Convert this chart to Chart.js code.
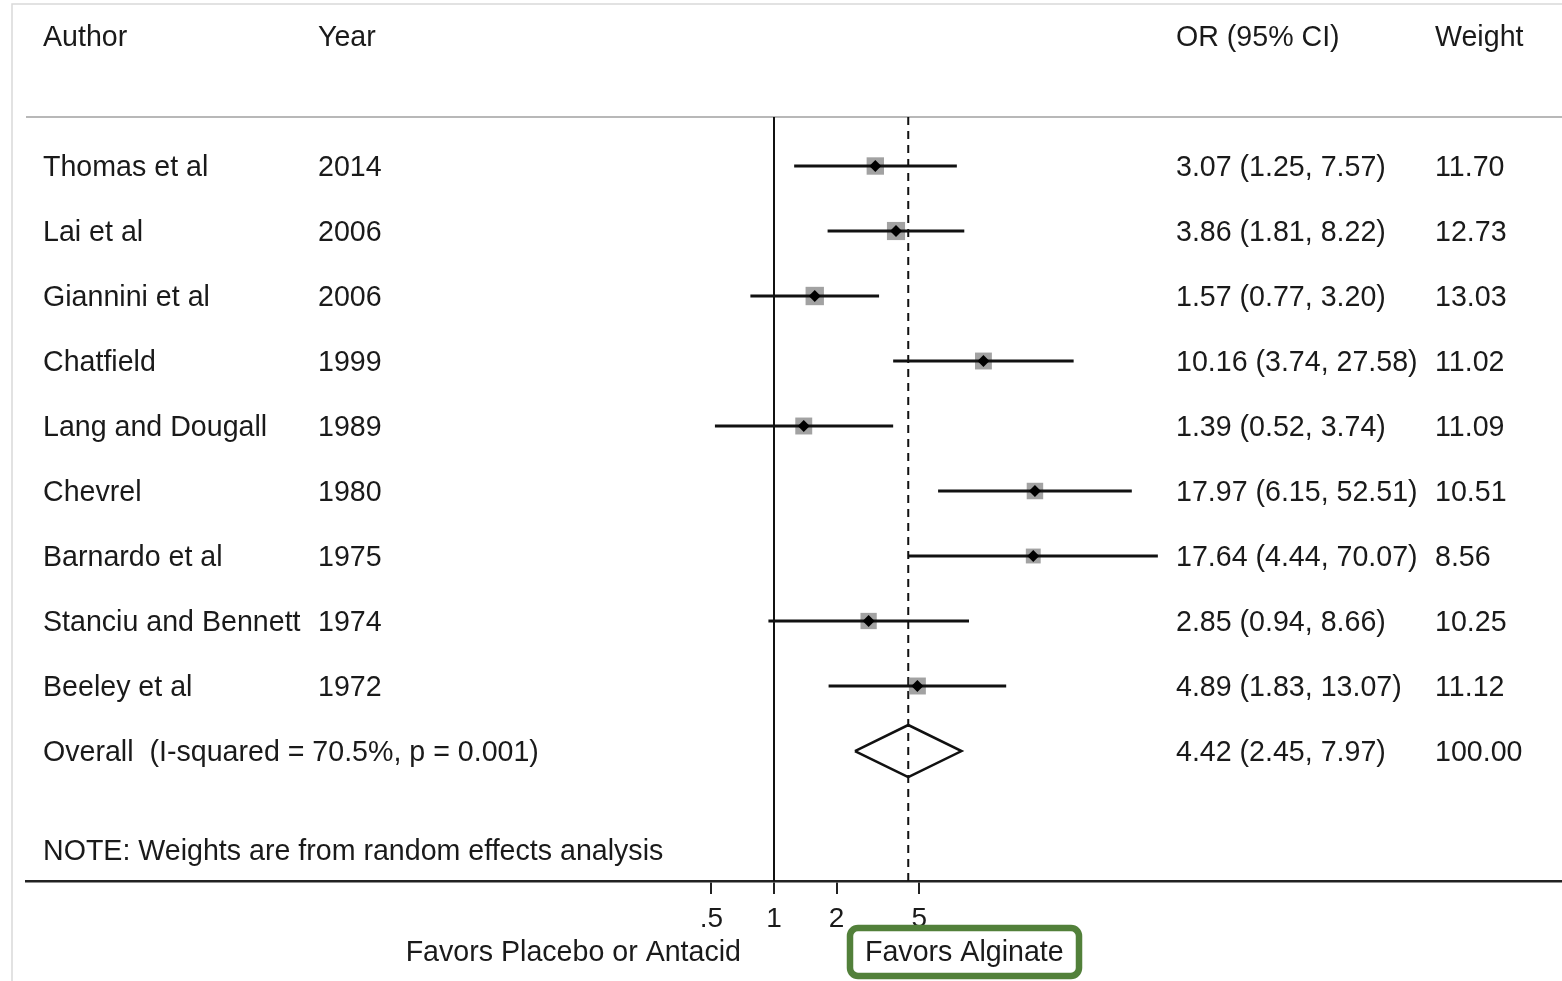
<!DOCTYPE html>
<html lang="en">
<head>
<meta charset="UTF-8">
<title>Forest plot - Alginate vs Placebo or Antacid</title>
<script src="https://cdn.jsdelivr.net/npm/chart.js"></script>
<style>
    html, body { margin: 0; padding: 0; background: #fff; overflow: hidden; }
    #wrap { width: 1562px; height: 981px; }
    canvas { display: block; }
</style>
</head>
<body>
<div id="wrap"><canvas id="forest" width="1562" height="981"></canvas></div>
<script>
const authors = ['Thomas et al', 'Lai et al', 'Giannini et al', 'Chatfield', 'Lang and Dougall',
                 'Chevrel', 'Barnardo et al', 'Stanciu and Bennett', 'Beeley et al'];
const years = ['2014', '2006', '2006', '1999', '1989', '1980', '1975', '1974', '1972'];
const orValues = [3.07, 3.86, 1.57, 10.16, 1.39, 17.97, 17.64, 2.85, 4.89];
const ciLow = [1.25, 1.81, 0.77, 3.74, 0.52, 6.15, 4.44, 0.94, 1.83];
const ciHigh = [7.57, 8.22, 3.20, 27.58, 3.74, 52.51, 70.07, 8.66, 13.07];
const weights = [11.70, 12.73, 13.03, 11.02, 11.09, 10.51, 8.56, 10.25, 11.12];

const overallOR = 4.42;
const overallCI = [2.45, 7.97];
const overallWeight = 100.00;
const overallLabel = 'Overall  (I-squared = 70.5%, p = 0.001)';
const noteLabel = 'NOTE: Weights are from random effects analysis';

const tickValues = [0.5, 1, 2, 5];
const tickLabels = ['.5', '1', '2', '5'];

// rows: -2 header, 0..8 studies, 9 overall, ~10.5 note
const yMin = -0.754, yMax = 11.0;
const overallRow = authors.length;
const noteRow = 10.52;
// ~208 px per decade, 1 sits at x=774, plot spans 26..1562
const xMin = Math.pow(10, (26 - 774) / 208);
const xMax = Math.pow(10, (1562 - 774) / 208);

const FONT = '"Liberation Sans", Arial, Helvetica, sans-serif';
const INK = '#1a1a1a';

const datasets = [];

// reference lines
datasets.push({
    type: 'line', data: [{ x: 1, y: yMin }, { x: 1, y: yMax }],
    borderColor: '#111', borderWidth: 2, pointRadius: 0, order: 6
});
datasets.push({
    type: 'line', data: [{ x: overallOR, y: yMin }, { x: overallOR, y: yMax }],
    borderColor: '#111', borderWidth: 2, borderDash: [8, 6], pointRadius: 0, order: 6
});

// weight boxes
datasets.push({
    type: 'scatter',
    data: orValues.map((v, i) => ({ x: v, y: i })),
    pointStyle: 'rect',
    pointRadius: weights.map(w => 12.3 * Math.sqrt(w / 11.7)),
    backgroundColor: '#a2a2a2', borderWidth: 0, order: 5
});

// confidence intervals
authors.forEach((a, i) => {
    datasets.push({
        type: 'line', data: [{ x: ciLow[i], y: i }, { x: ciHigh[i], y: i }],
        borderColor: '#111', borderWidth: 2.8, pointRadius: 0, order: 3
    });
});

// point estimates
datasets.push({
    type: 'scatter',
    data: orValues.map((v, i) => ({ x: v, y: i })),
    pointStyle: 'rectRot', pointRadius: 6,
    backgroundColor: '#000', borderWidth: 0, order: 1
});

// pooled diamond
datasets.push({
    type: 'line',
    data: [
        { x: overallCI[0], y: overallRow },
        { x: overallOR, y: overallRow - 0.4 },
        { x: overallCI[1], y: overallRow },
        { x: overallOR, y: overallRow + 0.4 },
        { x: overallCI[0], y: overallRow }
    ],
    borderColor: '#111', borderWidth: 2.5, pointRadius: 0, tension: 0,
    borderJoinStyle: 'miter', order: 2
});

const forestText = {
    id: 'forestText',
    beforeDatasetsDraw(chart) {
        const ctx = chart.ctx, area = chart.chartArea;
        ctx.save();
        // outer frame
        ctx.strokeStyle = '#d9d9d9';
        ctx.lineWidth = 1.5;
        ctx.beginPath();
        ctx.moveTo(12, 981); ctx.lineTo(12, 4); ctx.lineTo(1562, 4);
        ctx.stroke();
        // header rule
        ctx.strokeStyle = '#b8b8b8';
        ctx.lineWidth = 2;
        ctx.beginPath();
        ctx.moveTo(area.left, area.top); ctx.lineTo(area.right, area.top);
        ctx.stroke();
        ctx.restore();
    },
    afterDraw(chart) {
        const ctx = chart.ctx, ys = chart.scales.y;
        ctx.save();
        ctx.fillStyle = INK;
        ctx.font = '28.6px ' + FONT;
        ctx.textBaseline = 'middle';
        ctx.textAlign = 'left';
        const row = (i) => ys.getPixelForValue(i) + 2;

        ctx.fillText('Author', 43, row(-2));
        ctx.fillText('Year', 318, row(-2));
        ctx.fillText('OR (95% CI)', 1176, row(-2));
        ctx.fillText('Weight', 1435, row(-2));

        authors.forEach((a, i) => {
            ctx.fillText(a, 43, row(i));
            ctx.fillText(years[i], 318, row(i));
            ctx.fillText(orValues[i].toFixed(2) + ' (' + ciLow[i].toFixed(2) + ', ' + ciHigh[i].toFixed(2) + ')', 1176, row(i));
            ctx.fillText(weights[i].toFixed(2), 1435, row(i));
        });

        ctx.fillText(overallLabel, 43, row(overallRow));
        ctx.fillText(overallOR.toFixed(2) + ' (' + overallCI[0].toFixed(2) + ', ' + overallCI[1].toFixed(2) + ')', 1176, row(overallRow));
        ctx.fillText(overallWeight.toFixed(2), 1435, row(overallRow));
        ctx.fillText(noteLabel, 43, row(noteRow));

        // direction labels under the axis
        ctx.textAlign = 'right';
        ctx.fillText('Favors Placebo or Antacid', 741, 953);
        ctx.textAlign = 'left';
        ctx.fillText('Favors Alginate', 865, 953);

        // highlight box around "Favors Alginate"
        ctx.strokeStyle = '#52803a';
        ctx.lineWidth = 6.5;
        ctx.beginPath();
        ctx.roundRect(850, 928, 229, 48, 8);
        ctx.stroke();
        ctx.restore();
    }
};

new Chart(document.getElementById('forest'), {
    data: { datasets: datasets },
    options: {
        responsive: false,
        animation: false,
        layout: { autoPadding: false, padding: { left: 26, right: 0, top: 117, bottom: 0 } },
        plugins: { legend: { display: false }, tooltip: { enabled: false } },
        scales: {
            x: {
                type: 'logarithmic',
                min: xMin, max: xMax,
                bounds: 'data',
                afterBuildTicks: (s) => { s.ticks = tickValues.map(v => ({ value: v })); },
                afterFit: (s) => { s.height = 100; },
                grid: { drawOnChartArea: false, drawTicks: true, tickLength: 13, color: '#222', lineWidth: 2 },
                border: { display: true, color: '#222', width: 2.5 },
                ticks: {
                    autoSkip: false, maxRotation: 0, padding: 8,
                    color: INK, font: { family: FONT, size: 28 },
                    callback: (v) => tickLabels[tickValues.indexOf(v)]
                }
            },
            y: { type: 'linear', display: false, reverse: true, min: yMin, max: yMax }
        }
    },
    plugins: [forestText]
});
</script>
</body>
</html>
